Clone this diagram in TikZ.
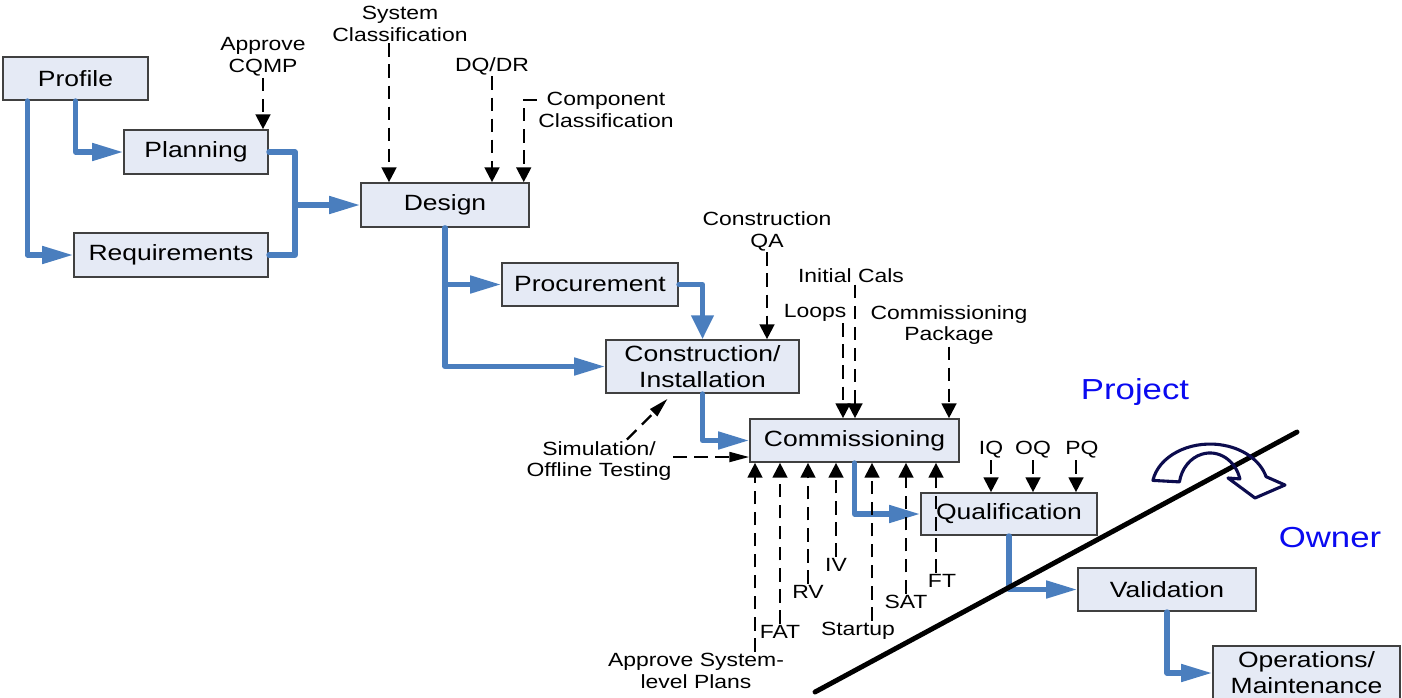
\documentclass[tikz,border=0pt]{standalone}
\usepackage{xcolor}
\usepackage{fontspec}
\setmainfont[FakeStretch=1.2]{Liberation Sans}
\usepackage{tikz}
\usetikzlibrary{arrows.meta,calc,positioning}

\definecolor{boxfill}{RGB}{229,234,245}
\definecolor{boxline}{RGB}{64,64,64}
\definecolor{flowblue}{RGB}{74,126,190}
\definecolor{navyline}{RGB}{12,12,78}
\definecolor{sideblue}{RGB}{10,10,240}
\newcommand{\pxu}{0.25mm}

\begin{document}
\begin{tikzpicture}[x=\pxu, y=-\pxu,
	flow/.style = {line width=3.6pt, draw=flowblue, line cap=round, line join=round},
	flowh/.style = {flow, -{Triangle[length=22pt,width=12pt]}},
	flowv/.style = {flow, -{Triangle[length=17pt,width=15.5pt]}},
	dashv/.style = {line width=1.6pt, dash pattern=on 9.5pt off 5.5pt, -{Triangle[length=10.5pt,width=10.5pt]}},
	dashh/.style = {line width=1.6pt, dash pattern=on 9.5pt off 5.5pt, -{Triangle[length=14pt,width=7pt]}}]
					\tikzset{box/.style 2 args={draw=boxline, line width=1.2pt, fill=boxfill, inner sep=0pt, align=center, minimum width=#1*\pxu, minimum height=#2*\pxu, font=\fontsize{15.7}{18.5}\selectfont}}
					\tikzset{lbl/.style={inner sep=1pt, align=center, font=\fontsize{13.6}{15.5}\selectfont}}

					\useasboundingbox (0,0) rectangle (1402,697);

					% Fases
					\node[box={145}{43}] (profile) at (75.5,78.5) {Profile};
					\node[box={144}{44}] (planning) at (196,152) {Planning};
					\node[box={194}{44}] (requirements) at (171,255) {Requirements};
					\node[box={168}{44}] (design) at (445,205) {Design};
					\node[box={176}{43}] (procurement) at (590,284.5) {Procurement};
					\node[box={193}{53}] (construction) at (702.5,366.5) {Construction/\\Installation};
					\node[box={209}{43}] (commissioning) at (854.5,440.5) {Commissioning};
					\node[box={176}{42}] (qualification) at (1009,514) {Qualification};
					\node[box={178}{43}] (validation) at (1167,589.5) {Validation};
					\node[box={187}{54}] (operations) at (1306.5,673) {Operations/\\Maintenance};

					% Flujo
					\draw [flowh] (profile.south) |- (planning.west);
					\draw [flowh] ($(profile.south west)+(25,0)$) |- (requirements.west);
					\coordinate (join) at (295,205);
					\draw [flow] (planning.east) -| (join);
					\draw [flow] (requirements.east) -| (join);
					\draw [flowh] (join) -- (design.west);
					\draw [flowh] (design.south) |- (procurement.west);
					\draw [flowh] (design.south) |- (construction.west);
					\draw [flowv] (procurement.east) -| (construction.north);
					\draw [flowh] (construction.south) |- (commissioning.west);
					\draw [flowh] (commissioning.south) |- (qualification.west);
					\draw [flowh] (qualification.south) |- (validation.west);
					\draw [flowh] (validation.south) |- (operations.west);

					% Entradas
					\node[lbl] (cqmp) at (263,57) {Approve\\CQMP};
					\node[lbl] (sysclass) at (400,24) {System\\Classification};
					\node[lbl] (dqdr) at (492,66) {DQ/DR};
					\node[lbl] (compclass) at (606,110) {Component\\Classification};
					\node[lbl] (conqa) at (767,231) {Construction\\QA};
					\node[lbl] (initcals) at (851,276) {Initial Cals};
					\node[lbl] (loops) at (815,313) {Loops};
					\node[lbl] (commpkg) at (949,325) {Commissioning\\Package};
					\node[lbl] (sim) at (599,461) {Simulation/\\Offline Testing};

					\draw [dashv] (cqmp.south) -- (cqmp.south |- planning.north);
					\draw [dashv] ([xshift=-11*\pxu]sysclass.south) coordinate (sc) -- (sc |- design.north);
					\draw [dashv] (dqdr.south) -- (dqdr.south |- design.north);
					\draw [dashv] ([yshift=10*\pxu]compclass.west) -- ++(-13,0) coordinate (cc) -- (cc |- design.north);
					\draw [dashv] (conqa.south) -- (conqa.south |- construction.north);
					\draw [dashv] ([xshift=4*\pxu]initcals.south) coordinate (ic) -- (ic |- commissioning.north);
					\draw [dashv] ([xshift=28*\pxu]loops.south) coordinate (lp) -- (lp |- commissioning.north);
					\draw [dashv] (commpkg.south) -- (commpkg.south |- commissioning.north);
					\draw [dashh] ([xshift=28*\pxu]sim.north) -- ($(construction.south)+(-35,5)$);
					\draw [dashh] ([yshift=4*\pxu]sim.east) coordinate (se) -- (se -| commissioning.west);

					% Pruebas
					\node[lbl] (asl) at (696,671) {Approve System-\\level Plans};
					\node[lbl] (fat) at (780,632) {FAT};
					\node[lbl] (rv) at (808,592) {RV};
					\node[lbl] (iv) at (836,565) {IV};
					\node[lbl] (startup) at (858,631) {Startup};
					\node[lbl] (sat) at (906,602) {SAT};
					\node[lbl] (ft) at (942,581) {FT};

					\draw [dashv] ([xshift=59*\pxu]asl.north) coordinate (al) -- (al |- commissioning.south);
					\draw [dashv] (fat.north) -- (fat.north |- commissioning.south);
					\draw [dashv] (rv.north) -- (rv.north |- commissioning.south);
					\draw [dashv] (iv.north) -- (iv.north |- commissioning.south);
					\draw [dashv] ([xshift=14*\pxu]startup.north) coordinate (su) -- (su |- commissioning.south);
					\draw [dashv] (sat.north) -- (sat.north |- commissioning.south);
					\draw [dashv] ([xshift=-6*\pxu]ft.north) coordinate (fx) -- (fx |- commissioning.south);

					\node[lbl] (iq) at (991,450) {IQ};
					\node[lbl] (oq) at (1033,450) {OQ};
					\node[lbl] (pq) at (1082,450) {PQ};
					\draw [dashv] (iq.south) -- (iq.south |- qualification.north);
					\draw [dashv] (oq.south) -- (oq.south |- qualification.north);
					\draw [dashv] ([xshift=-6*\pxu]pq.south) coordinate (pp) -- (pp |- qualification.north);

					% Proyecto / propietario
					\coordinate (cutlow) at (815,692);
					\coordinate (cuthigh) at (1297,432);
					\draw [line width=3.5pt, line cap=round] (cutlow) -- (cuthigh);

					\draw [navyline, line width=2.2pt, line join=round] (1152.9,480.4) arc[start angle=190, end angle=345, x radius=58, y radius=44] -- (1285,485) -- (1255,498) -- (1228,478) -- (1239.9,478.9) arc[start angle=345, end angle=190, x radius=31, y radius=35] -- cycle;

					\node[text=sideblue, font=\fontsize{20.6}{24}\selectfont] (project) at (1135,392) {Project};
					\node[text=sideblue, font=\fontsize{20.6}{24}\selectfont] (owner) at (1330,538) {Owner};

				\end{tikzpicture}
\end{document}
